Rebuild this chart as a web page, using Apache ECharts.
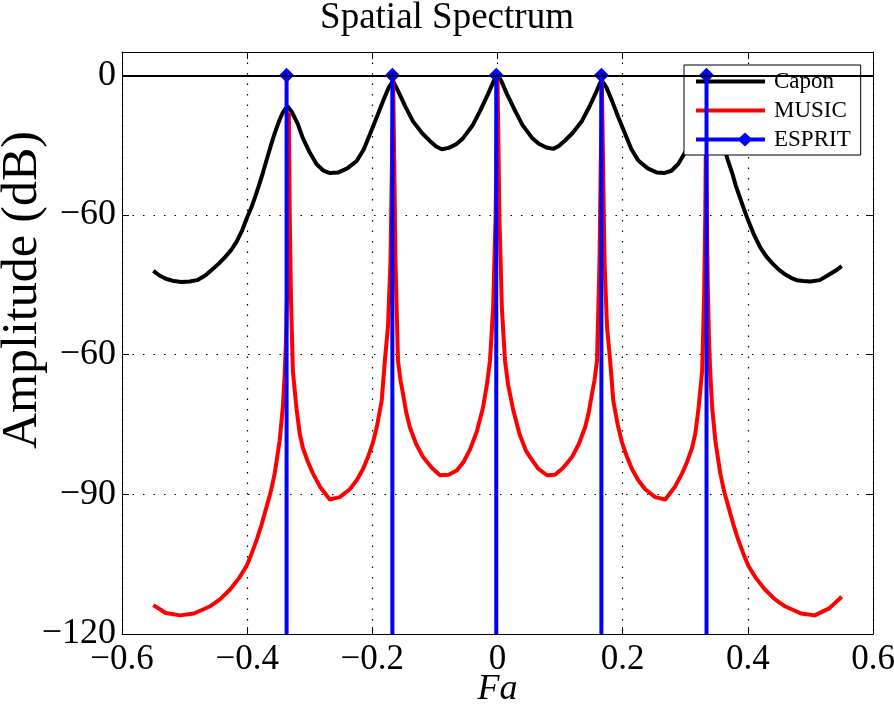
<!DOCTYPE html>
<html>
<head>
<meta charset="utf-8">
<script src="https://cdn.jsdelivr.net/npm/echarts@6/dist/echarts.min.js"></script>
<style>
html,body{margin:0;padding:0;background:#fff;}
#chart{width:894px;height:711px;}
</style>
</head>
<body>
<div id="chart"></div>
<script>
// ---- data ----
const titleText = 'Spatial Spectrum';
const xAxisName = 'Fa';
const yAxisName = 'Amplitude (dB)';
const xTickLabels = ['\u22120.6', '\u22120.4', '\u22120.2', '0', '0.2', '0.4', '0.6'];
const yTickLabels = ['\u2212120', '\u221290', '\u221260', '\u221260', '0'];

const caponFa = [-0.550,-0.540,-0.530,-0.517,-0.505,-0.492,-0.480,-0.467,-0.455,-0.445,-0.435,-0.426,-0.417,-0.408,-0.400,-0.393,-0.387,-0.381,-0.375,-0.369,-0.363,-0.358,-0.353,-0.348,-0.343,-0.336,-0.328,-0.319,-0.311,-0.300,-0.289,-0.278,-0.268,-0.255,-0.240,-0.225,-0.214,-0.204,-0.193,-0.183,-0.174,-0.167,-0.158,-0.147,-0.135,-0.120,-0.108,-0.098,-0.089,-0.078,-0.066,-0.055,-0.040,-0.028,-0.015,-0.006,0.000,0.006,0.015,0.028,0.040,0.055,0.066,0.078,0.089,0.098,0.108,0.120,0.135,0.147,0.158,0.166,0.174,0.183,0.193,0.204,0.214,0.225,0.240,0.255,0.266,0.278,0.289,0.300,0.311,0.319,0.328,0.334,0.342,0.347,0.352,0.357,0.362,0.368,0.375,0.381,0.388,0.394,0.400,0.410,0.420,0.430,0.440,0.450,0.460,0.469,0.478,0.489,0.500,0.515,0.530,0.540,0.550];
const caponDb = [-42.0,-43.0,-43.7,-44.2,-44.4,-44.3,-44.0,-43.0,-41.6,-40.4,-39.0,-37.6,-35.8,-33.3,-30.5,-28.3,-26.0,-23.6,-21.0,-18.2,-15.5,-13.3,-11.3,-9.5,-8.0,-6.6,-8.0,-10.5,-13.5,-16.6,-19.1,-20.5,-21.0,-20.9,-20.0,-18.4,-16.0,-12.7,-9.0,-5.6,-2.7,-1.2,-3.6,-6.8,-9.9,-12.5,-14.1,-15.3,-15.9,-15.6,-14.8,-13.5,-10.8,-7.7,-4.0,-1.2,0.0,-1.2,-4.0,-7.6,-10.7,-13.4,-14.7,-15.5,-15.8,-15.2,-14.0,-12.4,-9.8,-6.7,-3.5,-1.0,-2.6,-5.5,-9.0,-12.6,-15.9,-18.3,-20.0,-20.9,-21.0,-20.5,-19.0,-16.5,-13.4,-10.4,-7.9,-6.5,-8.0,-9.6,-11.3,-13.3,-15.5,-18.2,-21.0,-23.8,-26.5,-28.8,-31.0,-34.3,-37.0,-39.0,-40.5,-41.8,-42.8,-43.5,-44.0,-44.2,-44.3,-44.0,-42.8,-42.0,-41.0];

const musicFa = [-0.550,-0.530,-0.507,-0.485,-0.460,-0.443,-0.427,-0.413,-0.401,-0.393,-0.385,-0.377,-0.369,-0.362,-0.356,-0.352,-0.348,-0.343,-0.340,-0.338,-0.336,-0.3345,-0.3333,-0.332,-0.330,-0.327,-0.321,-0.316,-0.311,-0.303,-0.295,-0.283,-0.268,-0.252,-0.236,-0.225,-0.215,-0.207,-0.199,-0.192,-0.185,-0.180,-0.175,-0.171,-0.1667,-0.163,-0.159,-0.155,-0.151,-0.146,-0.140,-0.130,-0.119,-0.105,-0.092,-0.078,-0.065,-0.054,-0.044,-0.033,-0.023,-0.017,-0.012,-0.007,-0.003,0.000,0.003,0.007,0.012,0.017,0.025,0.035,0.045,0.052,0.065,0.079,0.092,0.105,0.119,0.130,0.140,0.146,0.151,0.155,0.159,0.163,0.1667,0.171,0.175,0.180,0.185,0.192,0.199,0.207,0.215,0.225,0.236,0.252,0.268,0.283,0.295,0.303,0.311,0.316,0.321,0.327,0.330,0.332,0.3333,0.3345,0.336,0.338,0.340,0.343,0.348,0.352,0.356,0.362,0.369,0.377,0.385,0.393,0.401,0.413,0.427,0.443,0.460,0.485,0.507,0.530,0.550];
const musicDb = [-113.8,-115.5,-116.0,-115.6,-114.1,-112.5,-110.4,-108.0,-105.4,-102.8,-99.9,-96.5,-92.7,-89.3,-85.5,-82.0,-78.4,-71.3,-64.0,-57.0,-45.0,-30.0,-8.0,-30.0,-48.0,-63.5,-71.8,-77.0,-80.0,-83.0,-85.5,-88.5,-91.1,-90.6,-88.9,-87.0,-84.6,-82.0,-78.9,-75.0,-69.9,-61.3,-54.0,-40.0,-1.0,-40.0,-61.3,-65.5,-68.4,-72.3,-75.6,-79.2,-82.0,-84.3,-85.9,-85.8,-84.9,-83.0,-80.4,-76.5,-71.3,-66.5,-61.3,-50.0,-30.0,0.0,-30.0,-50.0,-61.3,-66.5,-71.8,-77.0,-80.5,-82.0,-84.5,-85.9,-85.8,-84.3,-82.0,-79.2,-75.6,-72.3,-68.4,-65.5,-61.3,-40.0,-1.0,-40.0,-54.0,-61.3,-69.9,-75.0,-78.9,-82.0,-84.6,-87.0,-88.9,-90.6,-91.1,-88.5,-85.5,-83.0,-80.0,-77.0,-71.8,-63.5,-48.0,-30.0,-8.0,-30.0,-45.0,-57.0,-64.0,-71.3,-78.4,-82.0,-85.5,-89.3,-92.7,-96.5,-99.9,-102.8,-105.4,-108.0,-110.4,-112.5,-114.1,-115.6,-116.0,-114.5,-112.0];

const espritFa = [-0.337, -0.168, -0.002, 0.166, 0.334];
const espritDb = [0, 0, 0, 0, 0];
const stemBase = -120;

// ---- chart ----
const serif = '"Liberation Serif", "Times New Roman", serif';
const toPairs = (xs, ys) => xs.map((x, i) => [x, ys[i]]);
const espritData = [];
espritFa.forEach((x, i) => {
  espritData.push({ value: [x, stemBase], symbol: 'none' });
  espritData.push({ value: [x, espritDb[i]] });
  espritData.push({ value: [x, '-'], symbol: 'none' });
});

const xFmt = v => xTickLabels[Math.round((v + 0.6) / 0.2)] ?? '';
const yFmt = v => yTickLabels[Math.round((v + 120) / 30)] ?? '';

const chart = echarts.init(document.getElementById('chart'), null, { renderer: 'canvas' });
const axisLineStyle = { color: '#000', width: 1 };
const lineIcon = 'path://M0,5 L69,5 L69,9 L0,9 Z';
const stemIcon = 'path://M0,5 L69,5 L69,9 L0,9 Z M49,0 L56.5,7 L49,14 L41.5,7 Z';
chart.setOption({
  animation: false,
  backgroundColor: '#fff',
  title: {
    text: titleText, left: 'center', top: -5,
    textStyle: { fontFamily: serif, fontSize: 37, fontWeight: 'normal', color: '#000' }
  },
  grid: { left: 122, right: 21, top: 52, bottom: 77, containLabel: false, outerBoundsMode: 'none' },
  legend: {
    left: 684, top: 65, orient: 'vertical',
    itemWidth: 69, itemHeight: 14, itemGap: 6,
    padding: [5, 10, 4, 12],
    symbolKeepAspect: true,
    borderColor: '#000', borderWidth: 1, backgroundColor: '#fff',
    textStyle: { fontFamily: serif, fontSize: 23, lineHeight: 22, color: '#000', padding: [0, 0, 0, 4] },
    data: [
      { name: 'Capon', icon: lineIcon },
      { name: 'MUSIC', icon: lineIcon },
      { name: 'ESPRIT', icon: stemIcon }
    ]
  },
  xAxis: [{
    type: 'value', min: -0.6, max: 0.6, interval: 0.2,
    name: xAxisName, nameLocation: 'middle', nameGap: 38, nameMoveOverlap: false,
    nameTextStyle: { fontFamily: serif, fontSize: 36, fontStyle: 'italic', color: '#000' },
    axisLine: { show: true, onZero: false, lineStyle: axisLineStyle },
    axisTick: { show: true, inside: true, length: 7, lineStyle: axisLineStyle },
    axisLabel: { formatter: xFmt, fontFamily: serif, fontSize: 35, color: '#000', margin: 8, showMinLabel: true, showMaxLabel: true },
    splitLine: { show: true, lineStyle: { color: '#000', width: 1.2, type: [1.5, 9] } }
  }, {
    type: 'value', min: -0.6, max: 0.6, interval: 0.2, position: 'top',
    axisLine: { show: true, onZero: false, lineStyle: axisLineStyle },
    axisTick: { show: true, inside: true, length: 7, lineStyle: axisLineStyle },
    axisLabel: { show: false }, splitLine: { show: false }
  }],
  yAxis: [{
    type: 'value', min: -120, max: 5, interval: 30,
    axisLine: { show: true, onZero: false, lineStyle: axisLineStyle },
    axisTick: { show: true, inside: true, length: 7, lineStyle: axisLineStyle },
    axisLabel: { formatter: yFmt, fontFamily: serif, fontSize: 36, color: '#000', margin: 6, showMaxLabel: false },
    splitLine: { show: true, lineStyle: { color: '#000', width: 1.2, type: [1.5, 9] } }
  }, {
    type: 'value', min: -120, max: 5, interval: 30, position: 'right',
    axisLine: { show: true, onZero: false, lineStyle: axisLineStyle },
    axisTick: { show: true, inside: true, length: 7, lineStyle: axisLineStyle },
    axisLabel: { show: false }, splitLine: { show: false }
  }],
  graphic: [{
    type: 'text',
    rotation: Math.PI / 2,
    x: 23, y: 290,
    style: { text: yAxisName, font: '50px ' + serif, fill: '#000', align: 'center', verticalAlign: 'middle' }
  }],
  series: [{
    name: 'Capon', type: 'line', data: toPairs(caponFa, caponDb),
    symbol: 'none', lineStyle: { color: '#000', width: 4 }, itemStyle: { color: '#000' },
    z: 2,
    markLine: {
      silent: true, symbol: 'none', label: { show: false },
      lineStyle: { color: '#000', type: 'solid', width: 2 },
      data: [{ yAxis: 0 }]
    }
  }, {
    name: 'MUSIC', type: 'line', data: toPairs(musicFa, musicDb),
    symbol: 'none', lineStyle: { color: '#ff0000', width: 4 }, itemStyle: { color: '#ff0000' },
    z: 3
  }, {
    name: 'ESPRIT', type: 'line', data: espritData, connectNulls: false,
    symbol: 'diamond', symbolSize: 15, showAllSymbol: true,
    lineStyle: { color: '#0000ff', width: 4 }, itemStyle: { color: '#0000ff' },
    z: 4
  }]
});
</script>
</body>
</html>
